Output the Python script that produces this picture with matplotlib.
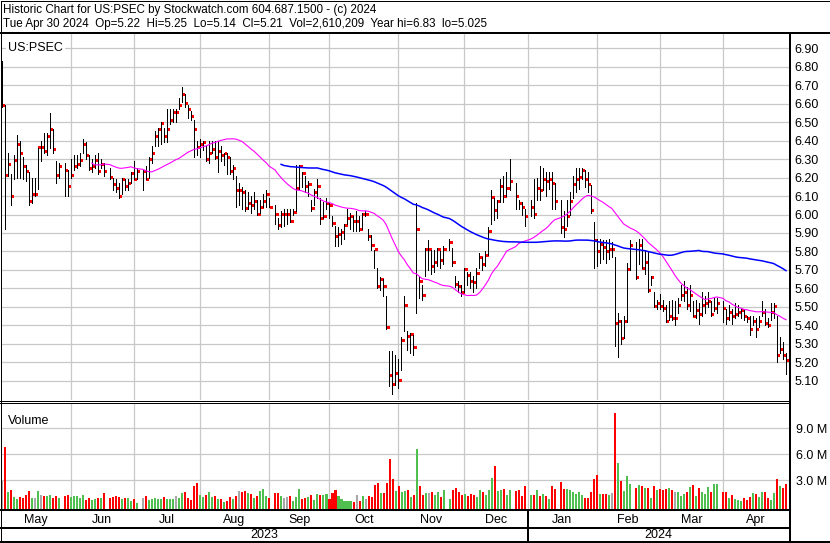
import matplotlib
matplotlib.use("Agg")
import matplotlib.pyplot as plt
import numpy as np
import pandas as pd

plt.rcParams["font.family"] = ["Liberation Sans", "DejaVu Sans"]

# weekday slots; exchange holidays keep an empty slot (None)
SLOTS = pd.bdate_range("2023-05-01", "2024-04-30")

HI = [6.83, 6.59, 6.33, 6.22, 6.32, 6.43, 6.40, 6.31, 6.27, 6.23,
      6.20, 6.20, 6.36, 6.40, 6.44, 6.44, 6.55, 6.46, 6.29, 6.28,
      None, 6.28, 6.24, 6.30, 6.32, 6.32, 6.33, 6.41, 6.39, 6.32,
      6.30, 6.32, 6.33, 6.30, 6.28, None, 6.25, 6.20, 6.19, 6.17,
      6.20, 6.19, 6.19, 6.23, 6.29, 6.25, None, 6.24, 6.26, 6.31,
      6.37, 6.45, 6.47, 6.50, 6.47, 6.57, 6.57, 6.57, 6.57, 6.63,
      6.69, 6.65, 6.59, 6.56, 6.51, 6.40, 6.41, 6.40, 6.37, 6.40,
      6.40, 6.40, 6.40, 6.37, 6.33, 6.33, 6.31, 6.27, 6.21, 6.17,
      6.15, 6.13, 6.12, 6.10, 6.12, 6.08, 6.08, 6.11, 6.13, 6.09,
      None, 6.05, 5.98, 6.02, 6.03, 6.03, 6.03, 6.03, 6.27, 6.27,
      6.23, 6.21, 6.18, 6.08, 6.14, 6.19, 6.09, 6.07, 6.09, 6.07,
      5.99, 5.94, 5.93, 5.92, 5.95, 6.03, 6.01, 5.99, 6.02, 5.99,
      6.01, 6.02, 5.92, 5.89, 5.81, 5.71, 5.66, 5.65, 5.56, 5.26,
      5.26, 5.24, 5.22, 5.34, 5.56, 5.37, 5.36, 5.35, 6.06, 5.67,
      5.62, 5.82, 5.86, 5.81, 5.81, 5.82, 5.80, 5.83, None, 5.87,
      5.82, 5.67, 5.64, 5.62, 5.71, 5.69, 5.69, 5.67, 5.71, 5.79,
      5.77, 5.80, 5.93, 6.13, 6.09, 6.08, 6.19, 6.21, 6.23, 6.30,
      None, 6.17, 6.08, 6.07, 6.03, None, 6.08, 6.19, 6.20, 6.26,
      6.25, 6.23, 6.23, 6.23, 6.17, None, 6.08, 6.02, 6.08, 6.12,
      6.21, 6.25, 6.25, 6.25, 6.24, 6.23, 6.16, 5.96, 5.87, 5.87,
      5.86, 5.86, 5.87, 5.85, 5.77, 5.47, 5.43, 5.45, 5.74, 5.86,
      None, 5.85, 5.87, 5.87, 5.80, 5.80, 5.67, 5.58, 5.54, 5.57,
      5.54, 5.51, 5.53, 5.54, 5.53, 5.55, 5.62, 5.64, 5.61, 5.62,
      5.53, 5.54, 5.52, 5.58, 5.56, 5.58, 5.53, 5.55, 5.55, None,
      5.53, 5.49, 5.51, 5.49, 5.52, 5.51, 5.49, 5.49, 5.45, 5.45,
      5.45, 5.44, 5.45, 5.53, 5.49, 5.44, 5.52, 5.52, 5.45, 5.34,
      5.31, 5.25]

LO = [6.58, 5.92, 6.21, 6.05, 6.19, 6.20, 6.20, 6.19, 6.18, 6.05,
      6.06, 6.10, 6.14, 6.29, 6.33, 6.32, 6.36, 6.33, 6.17, 6.20,
      None, 6.10, 6.10, 6.20, 6.24, 6.25, 6.26, 6.33, 6.30, 6.24,
      6.23, 6.25, 6.22, 6.25, 6.21, None, 6.19, 6.13, 6.12, 6.09,
      6.11, 6.13, 6.13, 6.17, 6.19, 6.19, None, 6.13, 6.19, 6.20,
      6.28, 6.37, 6.37, 6.38, 6.39, 6.39, 6.49, 6.50, 6.50, 6.57,
      6.61, 6.58, 6.52, 6.51, 6.31, 6.32, 6.31, 6.35, 6.29, 6.28,
      6.33, 6.30, 6.23, 6.29, 6.27, 6.22, 6.22, 6.19, 6.04, 6.05,
      6.03, 6.02, 6.03, 6.01, 6.03, 6.00, 6.01, 6.04, 6.04, 6.04,
      None, 5.95, 5.92, 5.93, 5.94, 5.95, 5.96, 6.00, 6.02, 6.13,
      6.15, 6.12, 6.10, 6.02, 6.05, 6.09, 5.95, 5.98, 6.03, 5.98,
      5.94, 5.83, 5.83, 5.84, 5.87, 5.95, 5.92, 5.91, 5.91, 5.91,
      5.92, 5.99, 5.86, 5.81, 5.71, 5.60, 5.59, 5.56, 5.38, 5.07,
      5.03, 5.08, 5.06, 5.16, 5.37, 5.27, 5.25, 5.24, 5.47, 5.55,
      5.54, 5.67, 5.70, 5.68, 5.69, 5.72, 5.71, 5.73, None, 5.81,
      5.72, 5.61, 5.58, 5.56, 5.58, 5.62, 5.60, 5.58, 5.60, 5.71,
      5.70, 5.72, 5.78, 5.95, 5.97, 5.98, 6.07, 6.07, 6.10, 6.13,
      None, 6.03, 6.03, 6.00, 5.94, None, 5.99, 5.98, 6.08, 6.08,
      6.13, 6.10, 6.14, 6.03, 6.03, None, 5.90, 5.88, 5.94, 6.00,
      6.09, 6.12, 6.14, 6.19, 6.15, 6.12, 6.01, 5.71, 5.72, 5.74,
      5.76, 5.74, 5.76, 5.77, 5.29, 5.23, 5.30, 5.33, 5.42, 5.70,
      None, 5.65, 5.73, 5.71, 5.68, 5.58, 5.62, 5.50, 5.49, 5.49,
      5.48, 5.42, 5.43, 5.43, 5.40, 5.47, 5.54, 5.53, 5.49, 5.48,
      5.45, 5.44, 5.41, 5.45, 5.47, 5.50, 5.45, 5.48, 5.47, None,
      5.42, 5.41, 5.43, 5.41, 5.44, 5.45, 5.44, 5.43, 5.42, 5.35,
      5.40, 5.34, 5.39, 5.45, 5.40, 5.39, 5.43, 5.44, 5.20, 5.25,
      5.22, 5.14]

CL = [6.59, 6.21, 6.27, 6.10, 6.29, 6.38, 6.33, 6.26, 6.23, 6.07,
      6.11, 6.11, 6.36, 6.36, 6.34, 6.42, 6.46, 6.35, 6.21, 6.26,
      None, 6.24, 6.15, 6.21, 6.26, 6.27, 6.29, 6.38, 6.32, 6.25,
      6.26, 6.29, 6.23, 6.27, 6.23, None, 6.20, 6.16, 6.14, 6.10,
      6.19, 6.15, 6.17, 6.22, 6.19, 6.23, None, 6.23, 6.19, 6.30,
      6.33, 6.42, 6.46, 6.49, 6.42, 6.46, 6.51, 6.55, 6.55, 6.59,
      6.65, 6.60, 6.57, 6.53, 6.46, 6.36, 6.38, 6.39, 6.30, 6.33,
      6.35, 6.31, 6.34, 6.32, 6.33, 6.31, 6.23, 6.25, 6.13, 6.13,
      6.12, 6.03, 6.06, 6.05, 6.07, 6.00, 6.04, 6.07, 6.11, 6.04,
      None, 6.00, 5.94, 6.00, 6.00, 6.00, 5.96, 6.01, 6.14, 6.26,
      6.22, 6.15, 6.16, 6.03, 6.12, 6.15, 5.98, 5.99, 6.06, 6.05,
      5.95, 5.88, 5.89, 5.90, 5.94, 5.98, 5.99, 5.96, 5.96, 5.92,
      6.00, 6.00, 5.88, 5.83, 5.81, 5.61, 5.65, 5.61, 5.39, 5.13,
      5.08, 5.14, 5.10, 5.32, 5.51, 5.34, 5.35, 5.28, 5.92, 5.64,
      5.56, 5.81, 5.81, 5.72, 5.74, 5.81, 5.75, 5.81, None, 5.85,
      5.74, 5.62, 5.61, 5.58, 5.70, 5.67, 5.64, 5.63, 5.68, 5.77,
      5.73, 5.78, 5.91, 6.09, 6.02, 6.07, 6.15, 6.10, 6.14, 6.18,
      None, 6.10, 6.06, 6.04, 5.99, None, 6.04, 6.00, 6.14, 6.13,
      6.19, 6.18, 6.19, 6.17, 6.07, None, 5.93, 5.92, 5.99, 6.07,
      6.16, 6.19, 6.20, 6.24, 6.19, 6.16, 6.02, 5.86, 5.80, 5.84,
      5.82, 5.80, 5.81, 5.81, 5.41, 5.42, 5.33, 5.42, 5.70, 5.83,
      None, 5.66, 5.83, 5.71, 5.74, 5.59, 5.66, 5.50, 5.52, 5.50,
      5.49, 5.42, 5.45, 5.44, 5.44, 5.51, 5.56, 5.58, 5.51, 5.56,
      5.45, 5.48, 5.46, 5.51, 5.52, 5.53, 5.46, 5.49, 5.52, None,
      5.49, 5.44, 5.47, 5.45, 5.46, 5.47, 5.48, 5.45, 5.44, 5.38,
      5.42, 5.38, 5.42, 5.47, 5.41, 5.40, 5.47, 5.50, 5.24, 5.27,
      5.24, 5.21]

# volume, millions of shares
VOL = [2.9, 6.9, 1.7, 1.9, 1.1, 0.9, 1.1, 1.0, 1.3, 1.8,
       1.0, 1.0, 1.8, 1.3, 1.2, 1.2, 1.3, 1.0, 1.2, 1.0,
       None, 1.2, 1.3, 1.1, 1.2, 1.2, 1.0, 1.3, 0.75, 0.95,
       0.75, 0.9, 0.95, 1.0, 1.5, None, 1.0, 1.1, 1.2, 1.1,
       0.9, 0.95, 0.95, 0.6, 0.9, 0.4, None, 0.95, 1.2, 0.75,
       0.9, 0.95, 0.9, 0.9, 1.1, 0.9, 0.9, 0.9, 1.2, 1.0,
       1.5, 1.7, 0.95, 0.75, 2.3, 2.7, 1.3, 1.1, 1.3, 1.6,
       1.1, 1.2, 0.9, 0.9, 0.5, 0.6, 1.1, 0.9, 1.2, 1.8,
       1.7, 1.8, 1.5, 1.4, 1.0, 1.2, 1.8, 2.0, 1.2, 1.0,
       None, 1.5, 1.5, 1.2, 1.0, 1.1, 1.2, 0.6, 1.1, 2.0,
       0.9, 0.95, 1.1, 1.3, 0.75, 1.4, 1.3, 1.3, 1.4, 0.9,
       1.5, 1.9, 1.2, 0.9, 0.6, 0.6, 0.6, 0.5, 1.3, 0.6,
       1.2, 0.9, 1.2, 1.1, 2.5, 2.7, 1.5, 1.5, 2.7, 5.5,
       3.2, 1.8, 2.4, 1.6, 1.8, 1.9, 1.1, 1.3, 6.6, 2.4,
       1.3, 1.5, 1.5, 1.6, 1.3, 1.7, 1.1, 1.9, None, 0.9,
       1.9, 2.1, 1.7, 1.3, 1.4, 1.2, 1.4, 1.3, 1.1, 1.9,
       1.7, 1.3, 1.9, 3.3, 4.7, 1.8, 1.9, 2.0, 1.3, 1.9,
       None, 1.8, 1.9, 1.2, 2.3, None, 1.3, 1.3, 1.9, 1.2,
       1.4, 1.2, 0.9, 2.4, 2.0, None, 2.8, 2.0, 2.0, 1.9,
       1.6, 1.4, 1.6, 1.3, 0.95, 0.95, 1.6, 3.1, 3.6, 1.4,
       1.4, 1.4, 1.3, 1.5, 10.75, 5.0, 2.9, 1.8, 3.5, 2.6,
       None, 2.1, 2.5, 2.3, 2.1, 2.1, 1.0, 2.4, 1.9, 2.0,
       1.9, 2.0, 2.1, 1.9, 1.7, 1.7, 1.2, 1.4, 1.6, 2.2,
       2.5, 1.2, 2.1, 1.7, 1.4, 2.2, 1.7, 2.6, 2.6, None,
       1.7, 1.7, 0.95, 1.3, 0.9, 0.75, 0.6, 1.0, 0.75, 1.1,
       1.5, 1.4, 1.1, 1.6, 1.6, 0.95, 0.75, 1.5, 3.2, 2.3,
       2.1, 2.61]

PRICE_TICKS = [round(5.1 + 0.1 * k, 2) for k in range(19)]
VOL_TICKS = [3.0, 6.0, 9.0]

HEADER1 = "Historic Chart for US:PSEC by Stockwatch.com 604.687.1500 - (c) 2024"
HEADER2 = ("Tue Apr 30 2024  Op=5.22  Hi=5.25  Lo=5.14  Cl=5.21  "
           "Vol=2,610,209  Year hi=6.83  lo=5.025")

RED = "#ff0000"
GREEN = "#4fbf4f"
GRAY = "#a8a8a8"
GRID = "#c8c8c8"
FS = 9
HFS = 8.4

# ---------------- series ----------------
hi = np.array(HI, dtype=float)
lo = np.array(LO, dtype=float)
cl = pd.Series(CL, dtype=float)
vol = pd.Series(VOL, dtype=float)
traded = cl.dropna()
pos = traded.index.to_numpy()

chg = traded.diff()
vcol = pd.Series(GRAY, index=traded.index)
vcol[chg > 1e-9] = GREEN
vcol[chg < -1e-9] = RED

ma30 = traded.rolling(30).mean()
ma90 = traded.rolling(90).mean()

month_starts = pd.date_range("2023-06-01", "2024-04-01", freq="MS")
grid_pos = [SLOTS.searchsorted(d, side="right") - 1 for d in month_starts]
month_names = pd.date_range("2023-05-01", "2024-04-01", freq="MS").strftime("%b")
year_pos = grid_pos[list(month_starts.month).index(1)]

# ---------------- layout (pixel boxes) ----------------
W, H = 830, 543
fig = plt.figure(figsize=(W / 100, H / 100), dpi=100)
fig.patch.set_facecolor("white")


def box(x0, y0, x1, y1):
    return fig.add_axes([x0 / W, 1 - y1 / H, (x1 - x0) / W, (y1 - y0) / H])


X0, X1 = -0.2, 262.0
PX = 0.72  # one pixel in points
YLO, YHI = 4.997, 6.976
PY = (YHI - YLO) / 366  # one pixel in price units

# ---------------- price panel ----------------
ax = box(1, 34, 789, 400)
ax.set_xlim(X0, X1)
ax.set_ylim(YLO, YHI)
ax.vlines(pos, lo[pos], hi[pos], color="black", lw=PX, antialiased=False, zorder=4)
# close tick: small red block just right of each bar
ax.bar(pos + 0.2, 3 * PY, bottom=traded.values - 1.5 * PY, width=0.95,
       align="edge", color=RED, lw=0, zorder=3)
ax.plot(ma30.index, ma30.values, color="#ff00ff", lw=0.8, zorder=5)
ax.plot(ma90.index, ma90.values, color="#0000ff", lw=1.1, zorder=5)

ax.set_yticks(PRICE_TICKS)
ax.set_yticklabels([f"{t:.2f}" for t in PRICE_TICKS], fontsize=FS)
ax.yaxis.tick_right()
ax.set_xticks(grid_pos)
ax.set_xticklabels([])
ax.tick_params(length=0, pad=4)
ax.grid(True, color=GRID, lw=0.9)
ax.set_axisbelow(True)
for s in ax.spines.values():
    s.set_visible(False)
ax.text(0.009, 0.962, "US:PSEC", transform=ax.transAxes, fontsize=FS,
        va="center", ha="left",
        bbox=dict(facecolor="white", edgecolor="none", pad=1.5))

# ---------------- volume panel ----------------
v0 = -(509 - 506.3) * 3 / 26
v1 = (506.3 - 402.5) * 3 / 26
axv = box(1, 402.5, 789, 509)
axv.set_xlim(X0, X1)
axv.set_ylim(v0, v1)
vv = vol[pos].to_numpy()
axv.bar(pos + 0.1, vv - v0, bottom=v0, width=0.68, color=vcol.values,
        lw=0, antialiased=False, zorder=3)
axv.set_yticks(VOL_TICKS)
axv.set_yticklabels([f"{t:.1f} M" for t in VOL_TICKS], fontsize=FS)
axv.yaxis.tick_right()
axv.set_xticks(grid_pos)
axv.set_xticklabels([])
axv.tick_params(length=0, pad=5)
axv.grid(True, color=GRID, lw=0.9)
axv.set_axisbelow(True)
for s in axv.spines.values():
    s.set_visible(False)
axv.text(0.009, 0.83, "Volume", transform=axv.transAxes, fontsize=FS,
         va="center", ha="left")

# ---------------- month / year rows ----------------
edges = [X0] + grid_pos + [X1]
axm = box(1, 511, 789, 527)
axm.set_xlim(X0, X1)
axm.set_ylim(0, 1)
axm.axis("off")
for k, name in enumerate(month_names):
    axm.text((edges[k] + edges[k + 1]) / 2, 0.45, name, ha="center",
             va="center", fontsize=FS)

axy = box(1, 528, 789, 541)
axy.set_xlim(X0, X1)
axy.set_ylim(0, 1)
axy.axis("off")
axy.text((X0 + year_pos) / 2, 0.45, "2023", ha="center", va="center", fontsize=FS)
axy.text((year_pos + X1) / 2, 0.45, "2024", ha="center", va="center", fontsize=FS)

# ---------------- header ----------------
fig.text(3 / W, 1 - 12.7 / H, HEADER1, fontsize=HFS, va="baseline", ha="left")
fig.text(3 / W, 1 - 27.3 / H, HEADER2, fontsize=HFS, va="baseline", ha="left")

# ---------------- frame lines (pixel overlay) ----------------
ov = fig.add_axes([0, 0, 1, 1], zorder=10)
ov.set_xlim(0, W)
ov.set_ylim(H, 0)
ov.axis("off")
ov.patch.set_alpha(0)
k = dict(color="black", antialiased=False, solid_capstyle="butt")
ov.plot([0.5, W - 0.5, W - 0.5, 0.5, 0.5], [0.5, 0.5, H - 0.5, H - 0.5, 0.5], lw=PX, **k)
ov.plot([0, W], [33, 33], lw=2 * PX, **k)
ov.plot([789.5, 789.5], [33, H], lw=2 * PX, **k)
ov.plot([0, 789], [400.5, 400.5], lw=PX, **k)
ov.plot([0, 789], [402.5, 402.5], lw=PX, **k)
ov.plot([0, 789], [510, 510], lw=2 * PX, **k)
ov.plot([0, 789], [527.5, 527.5], lw=2 * PX, **k)
ov.plot([0, W], [541.8, 541.8], lw=2 * PX, **k)
xj = ax.transData.transform((year_pos, 0))[0]
ov.plot([xj, xj], [510, H], lw=1.5 * PX, **k)

fig.savefig("out.png", dpi=100)
